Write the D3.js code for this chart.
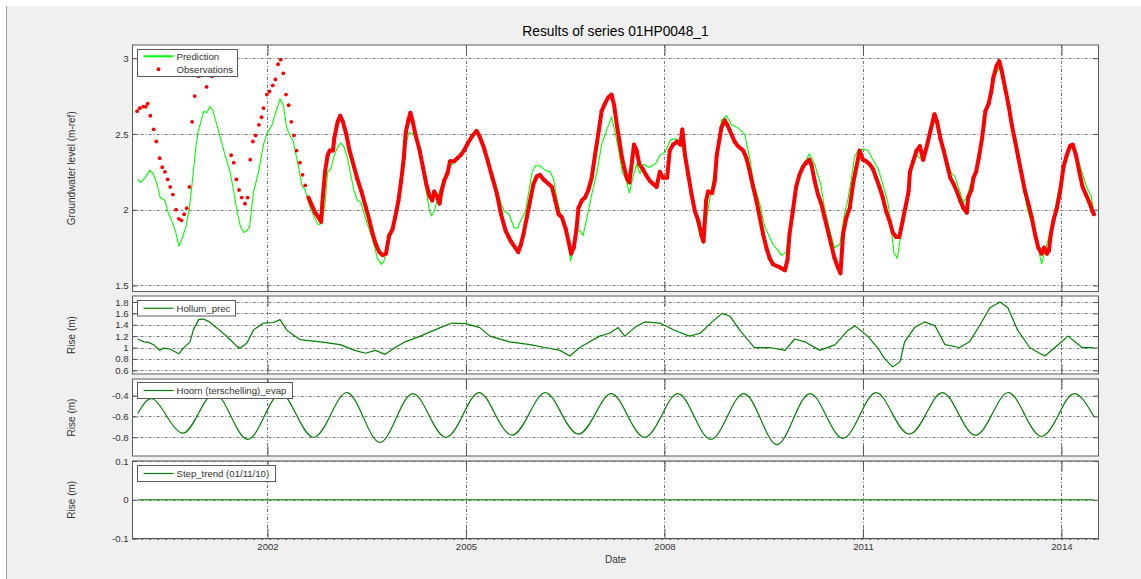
<!DOCTYPE html>
<html>
<head>
<meta charset="utf-8">
<script src="https://cdn.jsdelivr.net/npm/d3@7"></script>
<style>
body { margin: 0; background: #fff; }
svg { display: block; font-family: "Liberation Sans", Arial, sans-serif; }
</style>
</head>
<body>
<div id="chart"></div>
<script>
// ---- dados (anos decimais / metros) ----
const predYears = [2000.04,2000.08,2000.15,2000.22,2000.27,2000.33,2000.38,2000.45,2000.50,2000.57,2000.62,2000.66,2000.71,2000.77,2000.82,2000.87,2000.92,2000.95,2001.00,2001.04,2001.08,2001.13,2001.17,2001.26,2001.36,2001.44,2001.49,2001.54,2001.59,2001.64,2001.69,2001.73,2001.79,2001.86,2001.94,2001.99,2002.07,2002.13,2002.19,2002.24,2002.29,2002.34,2002.39,2002.47,2002.52,2002.57,2002.64,2002.72,2002.77,2002.82,2002.87,2002.91,2002.96,2003.01,2003.06,2003.11,2003.16,2003.21,2003.26,2003.31,2003.36,2003.41,2003.49,2003.56,2003.61,2003.66,2003.72,2003.76,2003.82,2003.89,2003.97,2004.04,2004.09,2004.14,2004.21,2004.27,2004.35,2004.40,2004.45,2004.48,2004.52,2004.60,2004.67,2004.75,2004.80,2004.87,2004.92,2005.00,2005.08,2005.15,2005.23,2005.30,2005.38,2005.45,2005.53,2005.58,2005.65,2005.73,2005.78,2005.83,2005.90,2005.95,2006.00,2006.05,2006.12,2006.20,2006.27,2006.32,2006.37,2006.42,2006.47,2006.55,2006.58,2006.62,2006.67,2006.72,2006.77,2006.83,2006.90,2006.98,2007.05,2007.13,2007.20,2007.25,2007.31,2007.36,2007.41,2007.47,2007.52,2007.58,2007.63,2007.68,2007.76,2007.81,2007.88,2007.93,2008.01,2008.09,2008.16,2008.24,2008.31,2008.39,2008.46,2008.54,2008.59,2008.64,2008.69,2008.74,2008.79,2008.86,2008.94,2009.01,2009.11,2009.21,2009.29,2009.34,2009.44,2009.52,2009.57,2009.64,2009.72,2009.77,2009.84,2009.89,2009.97,2010.04,2010.12,2010.19,2010.27,2010.36,2010.42,2010.50,2010.57,2010.65,2010.72,2010.77,2010.82,2010.87,2010.92,2011.00,2011.08,2011.15,2011.23,2011.30,2011.38,2011.43,2011.47,2011.52,2011.57,2011.63,2011.69,2011.74,2011.81,2011.89,2011.94,2012.02,2012.07,2012.11,2012.19,2012.27,2012.34,2012.39,2012.44,2012.52,2012.57,2012.62,2012.70,2012.77,2012.85,2012.92,2013.00,2013.06,2013.11,2013.17,2013.25,2013.33,2013.40,2013.48,2013.55,2013.63,2013.70,2013.75,2013.81,2013.88,2013.95,2014.03,2014.11,2014.16,2014.23,2014.31,2014.38,2014.45,2014.48];
const predValues = [2.20,2.18,2.21,2.26,2.24,2.17,2.08,2.06,1.98,1.91,1.84,1.76,1.81,1.89,2.01,2.21,2.42,2.51,2.59,2.65,2.64,2.68,2.66,2.52,2.36,2.24,2.12,1.99,1.89,1.85,1.86,1.89,2.12,2.24,2.43,2.50,2.56,2.65,2.73,2.69,2.54,2.49,2.45,2.28,2.16,2.13,2.02,1.94,1.90,1.91,2.04,2.25,2.27,2.36,2.41,2.44,2.41,2.34,2.23,2.12,2.06,2.05,1.93,1.84,1.77,1.68,1.64,1.66,1.77,1.90,2.06,2.25,2.43,2.51,2.50,2.43,2.25,2.12,1.99,1.96,1.99,2.12,2.21,2.29,2.30,2.33,2.36,2.42,2.46,2.51,2.45,2.39,2.25,2.17,2.04,1.99,1.97,1.88,1.88,1.93,1.99,2.12,2.25,2.29,2.29,2.26,2.25,2.21,2.08,1.99,1.90,1.77,1.66,1.73,1.86,1.86,1.83,1.95,2.10,2.25,2.43,2.53,2.61,2.52,2.39,2.25,2.21,2.11,2.21,2.30,2.24,2.30,2.28,2.29,2.31,2.36,2.38,2.46,2.47,2.45,2.34,2.17,1.97,1.83,1.82,1.95,2.08,2.21,2.33,2.59,2.62,2.56,2.54,2.50,2.34,2.19,2.04,1.88,1.84,1.77,1.73,1.70,1.72,1.86,2.12,2.23,2.31,2.37,2.30,2.17,2.01,1.86,1.75,1.77,1.97,2.06,2.19,2.34,2.39,2.40,2.39,2.33,2.27,2.17,2.04,1.86,1.71,1.68,1.82,1.95,2.15,2.28,2.36,2.33,2.39,2.54,2.59,2.56,2.43,2.32,2.24,2.22,2.15,2.05,2.08,2.16,2.23,2.36,2.65,2.74,2.89,2.93,2.89,2.76,2.58,2.43,2.25,2.01,1.91,1.79,1.64,1.73,1.82,1.93,2.12,2.25,2.39,2.42,2.36,2.25,2.15,2.09,2.01];

// observações esparsas (antes do registrador automático)
const obsSparseYears = [2000.03,2000.07,2000.12,2000.16,2000.19,2000.23,2000.28,2000.32,2000.37,2000.41,2000.45,2000.49,2000.53,2000.57,2000.62,2000.66,2000.70,2000.74,2000.78,2000.82,2000.86,2000.90,2000.96,2001.08,2001.16,2001.45,2001.49,2001.53,2001.57,2001.61,2001.66,2001.70,2001.74,2001.78,2001.82,2001.87,2001.91,2001.94,2001.99,2002.03,2002.08,2002.12,2002.16,2002.20,2002.24,2002.28,2002.32,2002.36,2002.40,2002.44,2002.49,2002.53,2002.57];
const obsSparseValues = [2.65,2.67,2.68,2.68,2.70,2.62,2.53,2.45,2.34,2.28,2.25,2.20,2.15,2.10,2.00,1.94,1.93,1.97,2.01,2.15,2.58,2.75,2.88,2.81,2.88,2.36,2.31,2.20,2.13,2.08,2.04,2.08,2.33,2.45,2.49,2.56,2.61,2.67,2.76,2.78,2.82,2.86,2.96,2.99,2.90,2.76,2.69,2.58,2.49,2.39,2.31,2.23,2.16];

// observações densas (registrador diário)
const obsDenseYears = [2002.62,2002.67,2002.72,2002.77,2002.81,2002.83,2002.87,2002.91,2002.94,2002.99,2003.01,2003.06,2003.10,2003.14,2003.19,2003.24,2003.31,2003.36,2003.42,2003.49,2003.54,2003.59,2003.64,2003.69,2003.74,2003.79,2003.84,2003.89,2003.93,2003.98,2004.02,2004.06,2004.09,2004.13,2004.16,2004.19,2004.24,2004.30,2004.35,2004.40,2004.45,2004.49,2004.52,2004.56,2004.60,2004.63,2004.67,2004.72,2004.76,2004.82,2004.87,2004.92,2004.97,2005.03,2005.10,2005.16,2005.20,2005.27,2005.33,2005.40,2005.47,2005.53,2005.60,2005.68,2005.76,2005.79,2005.83,2005.87,2005.92,2005.97,2006.02,2006.07,2006.12,2006.17,2006.25,2006.30,2006.35,2006.40,2006.45,2006.51,2006.55,2006.59,2006.63,2006.67,2006.70,2006.75,2006.80,2006.85,2006.90,2006.95,2007.00,2007.05,2007.10,2007.15,2007.20,2007.24,2007.28,2007.32,2007.36,2007.39,2007.43,2007.47,2007.51,2007.54,2007.58,2007.62,2007.67,2007.72,2007.78,2007.83,2007.88,2007.93,2007.98,2008.04,2008.08,2008.13,2008.19,2008.24,2008.27,2008.31,2008.36,2008.41,2008.46,2008.51,2008.56,2008.59,2008.63,2008.66,2008.72,2008.76,2008.79,2008.83,2008.86,2008.91,2008.95,2009.01,2009.06,2009.11,2009.19,2009.24,2009.29,2009.34,2009.39,2009.44,2009.49,2009.54,2009.59,2009.64,2009.69,2009.74,2009.82,2009.86,2009.89,2009.94,2009.99,2010.04,2010.09,2010.14,2010.19,2010.22,2010.27,2010.32,2010.37,2010.42,2010.47,2010.52,2010.57,2010.62,2010.66,2010.70,2010.75,2010.80,2010.85,2010.90,2010.95,2011.00,2011.05,2011.10,2011.15,2011.20,2011.25,2011.30,2011.35,2011.40,2011.45,2011.50,2011.55,2011.64,2011.69,2011.71,2011.76,2011.81,2011.86,2011.91,2011.96,2012.02,2012.08,2012.12,2012.17,2012.22,2012.27,2012.32,2012.37,2012.42,2012.47,2012.52,2012.57,2012.59,2012.64,2012.67,2012.71,2012.75,2012.80,2012.85,2012.90,2012.94,2012.97,2013.02,2013.06,2013.10,2013.15,2013.20,2013.25,2013.30,2013.35,2013.40,2013.45,2013.50,2013.55,2013.60,2013.65,2013.70,2013.74,2013.78,2013.81,2013.84,2013.88,2013.93,2013.98,2014.03,2014.08,2014.13,2014.17,2014.22,2014.27,2014.32,2014.37,2014.42,2014.47,2014.49];
const obsDenseValues = [2.08,2.03,1.98,1.95,1.92,2.05,2.25,2.36,2.39,2.39,2.47,2.58,2.62,2.58,2.50,2.39,2.28,2.20,2.12,2.01,1.93,1.84,1.77,1.72,1.70,1.71,1.83,1.87,1.95,2.06,2.19,2.34,2.51,2.59,2.64,2.59,2.49,2.39,2.28,2.17,2.09,2.06,2.12,2.09,2.04,2.12,2.19,2.24,2.32,2.32,2.34,2.36,2.39,2.44,2.49,2.52,2.49,2.41,2.32,2.21,2.10,1.97,1.86,1.79,1.74,1.72,1.77,1.84,1.95,2.06,2.17,2.22,2.23,2.20,2.17,2.15,2.06,1.97,1.95,1.87,1.79,1.71,1.75,1.87,2.01,2.06,2.08,2.13,2.21,2.36,2.50,2.65,2.70,2.74,2.76,2.69,2.56,2.45,2.34,2.28,2.21,2.18,2.32,2.43,2.39,2.30,2.27,2.23,2.19,2.17,2.15,2.25,2.21,2.21,2.39,2.43,2.45,2.43,2.53,2.36,2.23,2.10,1.99,1.93,1.83,1.79,2.06,2.12,2.11,2.19,2.36,2.46,2.54,2.59,2.56,2.50,2.45,2.42,2.39,2.34,2.25,2.15,2.06,1.95,1.84,1.75,1.68,1.64,1.63,1.62,1.60,1.67,1.84,1.99,2.15,2.23,2.28,2.31,2.33,2.30,2.19,2.10,2.04,1.95,1.86,1.77,1.68,1.62,1.58,1.84,1.95,2.01,2.17,2.28,2.39,2.33,2.32,2.30,2.27,2.21,2.15,2.08,1.99,1.93,1.85,1.82,1.82,2.01,2.12,2.25,2.32,2.39,2.42,2.33,2.41,2.52,2.63,2.58,2.47,2.39,2.30,2.21,2.17,2.12,2.06,2.01,1.98,2.08,2.13,2.21,2.25,2.34,2.47,2.65,2.70,2.78,2.87,2.95,2.98,2.91,2.80,2.69,2.56,2.45,2.34,2.23,2.12,2.04,1.95,1.84,1.75,1.71,1.75,1.71,1.73,1.84,1.93,2.01,2.12,2.28,2.36,2.42,2.43,2.36,2.25,2.15,2.10,2.05,1.99,1.97];

// Hollum_prec
const precYears = [2000.04,2000.13,2000.20,2000.28,2000.37,2000.43,2000.53,2000.66,2000.73,2000.83,2000.88,2000.96,2001.03,2001.11,2001.24,2001.39,2001.54,2001.59,2001.69,2001.79,2001.94,2002.09,2002.19,2002.29,2002.39,2002.49,2002.80,2003.10,2003.32,2003.48,2003.63,2003.78,2003.93,2004.08,2004.31,2004.61,2004.79,2004.99,2005.21,2005.36,2005.66,2005.97,2006.19,2006.42,2006.57,2006.72,2006.87,2007.02,2007.17,2007.30,2007.40,2007.55,2007.70,2007.93,2008.16,2008.38,2008.54,2008.72,2008.87,2008.99,2009.14,2009.36,2009.59,2009.82,2009.97,2010.12,2010.35,2010.58,2010.77,2010.88,2011.07,2011.22,2011.33,2011.45,2011.56,2011.63,2011.78,2011.93,2012.09,2012.24,2012.46,2012.61,2012.77,2012.92,2013.07,2013.19,2013.34,2013.52,2013.67,2013.75,2013.95,2014.10,2014.31,2014.48];
const precValues = [1.15,1.10,1.09,1.05,0.95,0.99,0.97,0.89,0.99,1.10,1.31,1.49,1.50,1.46,1.34,1.19,1.02,0.99,1.08,1.31,1.43,1.44,1.49,1.31,1.22,1.14,1.10,1.05,0.95,0.90,0.95,0.88,1.00,1.10,1.20,1.35,1.43,1.42,1.35,1.20,1.10,1.05,1.00,0.95,0.85,1.00,1.10,1.20,1.25,1.35,1.20,1.35,1.45,1.43,1.30,1.20,1.25,1.45,1.60,1.55,1.30,1.00,1.00,0.95,1.15,1.10,0.95,1.05,1.30,1.38,1.20,1.00,0.80,0.66,0.75,1.10,1.35,1.45,1.38,1.05,1.00,1.10,1.40,1.70,1.80,1.70,1.30,1.00,0.90,0.85,1.05,1.20,1.00,1.00];

// Hoorn (terschelling)_evap
const evapYears = [2000.04,2000.26,2000.50,2000.73,2000.95,2001.20,2001.45,2001.70,2001.95,2002.20,2002.45,2002.70,2002.95,2003.20,2003.45,2003.70,2003.95,2004.20,2004.45,2004.70,2004.95,2005.20,2005.45,2005.70,2005.95,2006.20,2006.45,2006.70,2006.95,2007.20,2007.45,2007.70,2007.95,2008.20,2008.45,2008.70,2008.95,2009.20,2009.45,2009.70,2009.95,2010.20,2010.45,2010.70,2010.95,2011.20,2011.45,2011.70,2011.95,2012.20,2012.45,2012.70,2012.95,2013.20,2013.45,2013.70,2013.95,2014.20,2014.49];
const evapValues = [-0.57,-0.43,-0.62,-0.76,-0.58,-0.38,-0.60,-0.82,-0.60,-0.38,-0.60,-0.80,-0.59,-0.37,-0.61,-0.85,-0.61,-0.38,-0.60,-0.80,-0.59,-0.37,-0.59,-0.78,-0.58,-0.37,-0.58,-0.77,-0.58,-0.38,-0.60,-0.80,-0.60,-0.38,-0.60,-0.82,-0.60,-0.38,-0.62,-0.87,-0.62,-0.38,-0.60,-0.81,-0.59,-0.37,-0.58,-0.77,-0.58,-0.37,-0.58,-0.78,-0.58,-0.37,-0.59,-0.79,-0.59,-0.38,-0.60];

// Step_trend
const stepYears = [2000.04, 2014.49];
const stepValues = [0, 0];

const xTicks = [2002, 2005, 2008, 2011, 2014];

// ---- layout ----
const width = 1141, height = 579;
const left = 132.5, right = 1098.5;
const fonte = 9.6;

const svg = d3.select("#chart").append("svg")
    .attr("width", width)
    .attr("height", height);

// fundo cinza da figura
svg.append("rect")
    .attr("x", 6).attr("y", 6)
    .attr("width", width - 6).attr("height", height - 6)
    .attr("fill", "#f0f0f0");
svg.append("line")
    .attr("x1", 6.5).attr("x2", 6.5).attr("y1", 6).attr("y2", height)
    .attr("stroke", "#a0a0a0");

const x = d3.scaleLinear().domain([1999.96, 2014.56]).range([left, right]);

const panels = [
    { top: 45, bottom: 291.5, domain: [1.46, 3.087], ticks: [1.5, 2, 2.5, 3], label: "Groundwater level (m-ref)" },
    { top: 296, bottom: 374, domain: [0.535, 1.905], ticks: [0.6, 0.8, 1, 1.2, 1.4, 1.6, 1.8], label: "Rise (m)" },
    { top: 379, bottom: 456, domain: [-0.98, -0.24], ticks: [-0.8, -0.6, -0.4], label: "Rise (m)" },
    { top: 461, bottom: 538.5, domain: [-0.1, 0.1], ticks: [-0.1, 0, 0.1], label: "Rise (m)" }
];

const fmt = v => String(v);

panels.forEach((p, i) => {
    p.y = d3.scaleLinear().domain(p.domain).range([p.bottom, p.top]);
    const g = svg.append("g");

    g.append("rect")
        .attr("x", left).attr("y", p.top)
        .attr("width", right - left).attr("height", p.bottom - p.top)
        .attr("fill", "#fff");

    // grade
    g.append("g").selectAll("line").data(p.ticks).join("line")
        .attr("x1", left).attr("x2", right)
        .attr("y1", d => Math.round(p.y(d)) + 0.5).attr("y2", d => Math.round(p.y(d)) + 0.5)
        .attr("stroke", "#777").attr("stroke-dasharray", "3,2,1,2");
    g.append("g").selectAll("line").data(xTicks).join("line")
        .attr("x1", d => Math.round(x(d)) + 0.5).attr("x2", d => Math.round(x(d)) + 0.5)
        .attr("y1", p.top).attr("y2", p.bottom)
        .attr("stroke", "#777").attr("stroke-dasharray", "3,2,1,2");

    // eixos (ticks para dentro)
    const axL = g.append("g").attr("transform", `translate(${left},0)`)
        .call(d3.axisLeft(p.y).tickValues(p.ticks).tickFormat(fmt).tickSize(-5).tickPadding(4));
    const axR = g.append("g").attr("transform", `translate(${right},0)`)
        .call(d3.axisRight(p.y).tickValues(p.ticks).tickFormat("").tickSize(-5));
    const axT = g.append("g").attr("transform", `translate(0,${p.top})`)
        .call(d3.axisTop(x).tickValues(xTicks).tickFormat("").tickSize(-10));
    const axB = g.append("g").attr("transform", `translate(0,${p.bottom})`)
        .call(d3.axisBottom(x).tickValues(xTicks).tickFormat(i === 3 ? fmt : "").tickSize(-10).tickPadding(5));
    [axL, axR, axT, axB].forEach(a => {
        a.select(".domain").remove();
        a.selectAll(".tick line").attr("stroke", "#555");
        a.selectAll("text").attr("fill", "#333").attr("font-size", fonte).attr("font-family", "Liberation Sans, Arial, sans-serif");
    });

    // rótulo do eixo y
    g.append("text")
        .attr("transform", `translate(75,${(p.top + p.bottom) / 2}) rotate(-90)`)
        .attr("text-anchor", "middle")
        .attr("font-size", 10)
        .attr("fill", "#333")
        .text(p.label);
});

const clip = (p, id) => {
    svg.append("clipPath").attr("id", id).append("rect")
        .attr("x", left).attr("y", p.top).attr("width", right - left).attr("height", p.bottom - p.top);
    return `url(#${id})`;
};

// painel 1: previsão e observações
const p0 = panels[0];
const line0 = d3.line().x(d => x(d[0])).y(d => p0.y(d[1]));
const data = svg.append("g").attr("clip-path", clip(p0, "c0"));

const dense = d3.zip(obsDenseYears, obsDenseValues);
const sparse = d3.zip(obsSparseYears, obsSparseValues);

data.append("path")
    .datum(d3.zip(predYears, predValues))
    .attr("d", line0)
    .attr("fill", "none").attr("stroke", "#00ff00").attr("stroke-width", 1.1);

data.append("path")
    .datum(dense)
    .attr("d", line0)
    .attr("fill", "none").attr("stroke", "#ff0000").attr("stroke-width", 4)
    .attr("stroke-linejoin", "round").attr("stroke-linecap", "round");

data.append("g").selectAll("circle").data(sparse.concat(dense)).join("circle")
    .attr("cx", d => x(d[0])).attr("cy", d => p0.y(d[1]))
    .attr("r", 1.9).attr("fill", "#ff0000");

// paineis de contribuição
const comps = [
    [panels[1], precYears, precValues, d3.curveLinear],
    [panels[2], evapYears, evapValues, d3.curveNatural],
    [panels[3], stepYears, stepValues, d3.curveLinear]
];
comps.forEach(([p, xs, ys, curva], i) => {
    const ln = d3.line().x(d => x(d[0])).y(d => p.y(d[1])).curve(curva);
    svg.append("path")
        .attr("clip-path", clip(p, "cc" + i))
        .datum(d3.zip(xs, ys))
        .attr("d", ln)
        .attr("fill", "none").attr("stroke", "#008000").attr("stroke-width", 1.2)
        .attr("stroke-linejoin", "round");
});

// bordas dos eixos
panels.forEach(p => {
    svg.append("rect")
        .attr("x", left).attr("y", p.top)
        .attr("width", right - left).attr("height", p.bottom - p.top)
        .attr("fill", "none").attr("stroke", "#5a5a5a");
});

// legendas
function legenda(x0, y0, w, h, items) {
    const g = svg.append("g");
    g.append("rect").attr("x", x0).attr("y", y0).attr("width", w).attr("height", h)
        .attr("fill", "#fff").attr("stroke", "#5a5a5a");
    items.forEach((it, k) => {
        const cy = y0 + h / items.length / 2 + k * 13;
        if (it.type === "line") {
            g.append("line").attr("x1", x0 + 6).attr("x2", x0 + 36).attr("y1", cy).attr("y2", cy)
                .attr("stroke", it.color).attr("stroke-width", it.width);
        } else {
            g.append("circle").attr("cx", x0 + 21).attr("cy", cy).attr("r", 1.9).attr("fill", it.color);
        }
        g.append("text").attr("x", x0 + 39).attr("y", cy + 3.5)
            .attr("font-size", fonte).attr("fill", "#333").text(it.name);
    });
}
legenda(137.5, 49.5, 100, 27, [
    { type: "line", color: "#00ff00", width: 2, name: "Prediction" },
    { type: "dot", color: "#ff0000", name: "Observations" }
]);
legenda(137.5, 300.5, 98, 15.5, [{ type: "line", color: "#008000", width: 1.2, name: "Hollum_prec" }]);
legenda(137.5, 382.5, 155, 16, [{ type: "line", color: "#008000", width: 1.2, name: "Hoorn (terschelling)_evap" }]);
legenda(137.5, 465.5, 138, 16, [{ type: "line", color: "#008000", width: 1.2, name: "Step_trend (01/11/10)" }]);

// título e rótulo x
svg.append("text")
    .attr("x", (left + right) / 2).attr("y", 36)
    .attr("text-anchor", "middle").attr("font-size", 13.8).attr("fill", "#000")
    .text("Results of series 01HP0048_1");
svg.append("text")
    .attr("x", (left + right) / 2).attr("y", 563)
    .attr("text-anchor", "middle").attr("font-size", 10).attr("fill", "#333")
    .text("Date");
</script>
</body>
</html>
